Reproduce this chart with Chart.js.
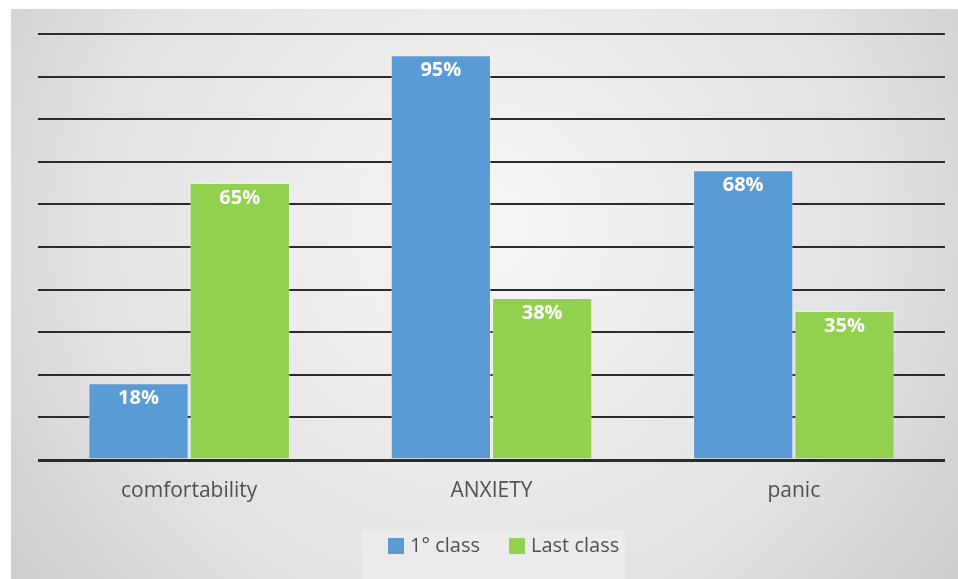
<!DOCTYPE html>
<html>
<head>
<meta charset="utf-8">
<script src="https://cdn.jsdelivr.net/npm/chart.js@4.4.1/dist/chart.umd.min.js"></script>
<style>
  html, body { margin: 0; padding: 0; background: #fff; }
  #wrap { width: 958px; height: 579px; }
</style>
</head>
<body>
<div id="wrap"><canvas id="grafico" width="958" height="579"></canvas></div>
<script>
const categorias = ['comfortability', 'ANXIETY', 'panic'];
const primeiraAula = [18, 95, 68];
const ultimaAula = [65, 38, 35];
const nomesSeries = ['1° class', 'Last class'];

const azul = '#5b9bd5';
const verde = '#92d050';
const corTexto = '#505050';
const fonte = '"Open Sans", "Noto Sans", sans-serif';

// fundo cinza com degradê radial
const fundoPlugin = {
  id: 'fundo',
  beforeDraw(chart) {
    const ctx = chart.ctx;
    const w = chart.width, h = chart.height;
    ctx.save();
    ctx.fillStyle = '#ffffff';
    ctx.fillRect(0, 0, w, h);
    const g = ctx.createRadialGradient(480, 230, 40, 480, 230, 620);
    g.addColorStop(0, '#f4f4f4');
    g.addColorStop(0.6, '#e2e2e2');
    g.addColorStop(1, '#c9c9c9');
    ctx.fillStyle = g;
    ctx.fillRect(11, 9, w - 11, h - 9);
    ctx.restore();
  }
};

// rótulos de valor dentro do topo de cada barra
const rotulosPlugin = {
  id: 'rotulos',
  afterDatasetsDraw(chart) {
    const ctx = chart.ctx;
    ctx.save();
    ctx.font = 'bold 20px ' + fonte;
    ctx.fillStyle = '#ffffff';
    ctx.textAlign = 'center';
    ctx.textBaseline = 'middle';
    chart.data.datasets.forEach((ds, i) => {
      chart.getDatasetMeta(i).data.forEach((bar, j) => {
        ctx.fillText(ds.data[j] + '%', bar.x, bar.y + 15);
      });
    });
    ctx.restore();
  }
};

// legenda compacta numa caixa clara abaixo do eixo
const legendaPlugin = {
  id: 'legenda',
  afterDraw(chart) {
    const ctx = chart.ctx;
    ctx.save();
    ctx.fillStyle = 'rgba(236,236,236,0.8)';
    ctx.fillRect(362, 530, 263, 49);
    ctx.font = '20px ' + fonte;
    ctx.textBaseline = 'middle';
    ctx.textAlign = 'left';
    let x = 388;
    const y = 546;
    chart.data.datasets.forEach((ds, i) => {
      ctx.fillStyle = ds.backgroundColor;
      ctx.fillRect(x, y - 8, 16, 16);
      x += 22;
      ctx.fillStyle = corTexto;
      ctx.fillText(ds.label, x, y);
      x += ctx.measureText(ds.label).width + 29;
    });
    ctx.restore();
  }
};

new Chart(document.getElementById('grafico'), {
  type: 'bar',
  data: {
    labels: categorias,
    datasets: [
      { label: nomesSeries[0], data: primeiraAula, backgroundColor: azul, borderColor: 'rgba(255,255,255,0.35)', borderWidth: 1 },
      { label: nomesSeries[1], data: ultimaAula, backgroundColor: verde, borderColor: 'rgba(255,255,255,0.35)', borderWidth: 1 }
    ]
  },
  options: {
    responsive: false,
    animation: false,
    layout: { padding: { left: 38, right: 13, top: 34, bottom: 0 } },
    categoryPercentage: 0.67,
    barPercentage: 0.99,
    plugins: {
      tooltip: { enabled: false },
      legend: { display: false }
    },
    scales: {
      x: {
        grid: { display: false, drawTicks: false },
        border: { display: false },
        ticks: { color: corTexto, font: { family: fonte, size: 21 }, padding: 18 },
        afterFit(scale) { scale.height = 119; }
      },
      y: {
        min: 0,
        max: 100,
        ticks: { display: false, stepSize: 10 },
        border: { display: false },
        grid: {
          color: '#2b2b2b',
          lineWidth: ctx => ctx.tick.value === 0 ? 3 : 2,
          drawTicks: false
        }
      }
    }
  },
  plugins: [fundoPlugin, rotulosPlugin, legendaPlugin]
});
</script>
</body>
</html>
